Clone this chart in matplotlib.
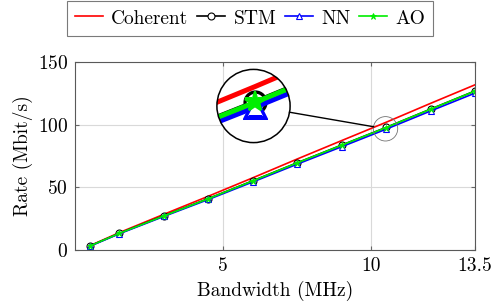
import numpy as np
import matplotlib
matplotlib.use("Agg")
import matplotlib.pyplot as plt
from matplotlib.patches import Circle, Ellipse
from matplotlib.lines import Line2D

plt.rcParams['font.family'] = 'serif'
plt.rcParams['font.serif'] = ['cmr10']
plt.rcParams['axes.formatter.use_mathtext'] = True
plt.rcParams['font.size'] = 14

# data
bandwidth = [0.5, 1.5, 3, 4.5, 6, 7.5, 9, 10.5, 12, 13.5]
coherent = [3.4, 13.9, 28.5, 42.9, 57.6, 72.6, 87.3, 101.9, 117.0, 131.8]
stm = [3.2, 13.3, 27.3, 41.0, 55.2, 69.6, 83.7, 97.8, 112.4, 126.9]
nn = [3.0, 13.0, 26.8, 40.3, 54.3, 68.5, 82.4, 96.4, 110.9, 125.2]
ao = [3.2, 13.3, 27.2, 40.9, 55.1, 69.5, 83.6, 97.7, 112.3, 126.8]
xticks = [5, 10, 13.5]
xticklabels = ['5', '10', '13.5']
yticks = [0, 50, 100, 150]

W, H = 498, 307
fig = plt.figure(figsize=(W / 100, H / 100), dpi=100)

# main axes: pixel box left 75, right 475, top 62, bottom 250
ax = fig.add_axes([75 / W, 1 - 250 / H, 400 / W, 188 / H])


def draw(a, k=1.0):
    a.plot(bandwidth, coherent, color='red', lw=1.2 * k, label='Coherent')
    a.plot(bandwidth, stm, color='black', lw=1.2 * k, marker='o', ms=5 * k,
           mfc='white', mec='black', mew=0.8 * k, label='STM')
    a.plot(bandwidth, nn, color='blue', lw=1.2 * k, marker='^', ms=5 * k,
           mfc='white', mec='blue', mew=0.8 * k, label='NN')
    a.plot(bandwidth, ao, color='#00ee00', lw=1.2 * k, marker='*', ms=5 * k,
           mfc='#00ee00', mec='#00ee00', mew=0.6 * k, label='AO')


draw(ax)
ax.set_xlim(0, 13.5)
ax.set_ylim(0, 150)
ax.set_xticks(xticks)
ax.set_xticklabels(xticklabels)
ax.set_yticks(yticks)
ax.grid(True, color='0.85', lw=0.8)
ax.set_axisbelow(True)
ax.tick_params(direction='in', length=3, color='0.4', top=True, right=True, pad=5)
for s in ax.spines.values():
    s.set_color('0.35')
    s.set_linewidth(0.8)
ax.set_xlabel('Bandwidth (MHz)', labelpad=4)
ax.set_ylabel('Rate (Mbit/s)', labelpad=3)

# spy region (small circle) around the point at 10.5 MHz
cx, cy = 385.5, 128.8   # small circle centre, pixels from top-left
r_small = 12.2
mag = 3.0
bx, by = 253.5, 106.0   # big circle centre
r_big = r_small * mag

dx_data = r_small / 400 * 13.5
dy_data = r_small / 188 * 150
xc = (cx - 75) / 400 * 13.5
yc = (250 - cy) / 188 * 150
ax.add_patch(Ellipse((xc, yc), 2 * dx_data, 2 * dy_data, fill=False,
                     edgecolor='0.45', lw=0.6, zorder=5))

# connecting line
u = np.array([cx - bx, cy - by])
u = u / np.hypot(*u)
p1 = np.array([bx, by]) + r_big * u
p2 = np.array([cx, cy]) - r_small * u
fig.add_artist(Line2D([p1[0] / W, p2[0] / W], [1 - p1[1] / H, 1 - p2[1] / H],
                      color='black', lw=1.0, transform=fig.transFigure))

# magnified inset
axi = fig.add_axes([(bx - r_big) / W, 1 - (by + r_big) / H, 2 * r_big / W, 2 * r_big / H])
axi.set_axis_off()
clip = Circle((0.5, 0.5), 0.5, transform=axi.transAxes, facecolor='white',
              edgecolor='none', zorder=0)
axi.add_patch(clip)
draw(axi, mag)
for ln in axi.lines:
    ln.set_clip_path(clip)
axi.set_xlim(xc - dx_data, xc + dx_data)
axi.set_ylim(yc - dy_data, yc + dy_data)
axi.add_patch(Circle((0.5, 0.5), 0.5, transform=axi.transAxes, fill=False,
                     edgecolor='black', lw=1.1, zorder=10, clip_on=False))

# legend above the axes
handles, labels = ax.get_legend_handles_labels()
leg = fig.legend(handles, labels, loc='upper center', bbox_to_anchor=(250 / W, 1 - 1 / H),
                 ncol=4, frameon=True, fancybox=False, edgecolor='0.35',
                 handlelength=1.45, handleheight=1.0, handletextpad=0.43,
                 columnspacing=0.43, borderpad=0.4, borderaxespad=0)
leg.get_frame().set_linewidth(0.8)

fig.savefig('out.png', dpi=100)
